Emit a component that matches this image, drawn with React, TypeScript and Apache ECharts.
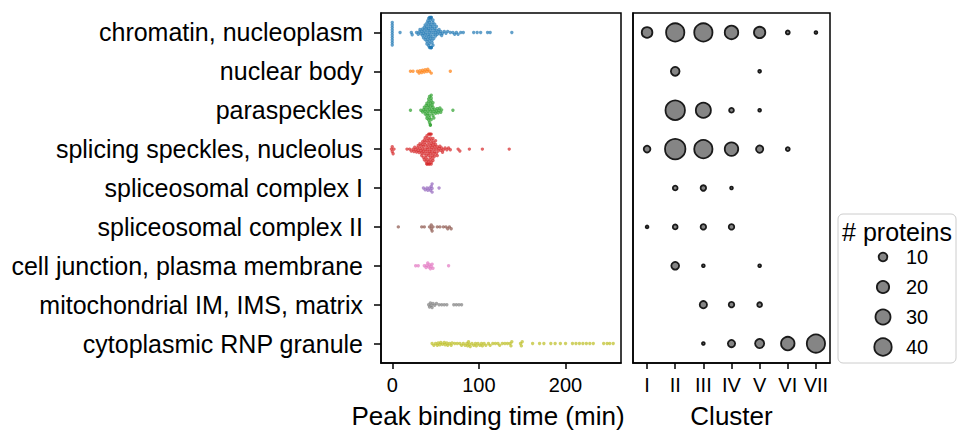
import React, { useEffect, useRef } from 'react';
import * as echarts from 'echarts';

const locations = [
  'chromatin, nucleoplasm',
  'nuclear body',
  'paraspeckles',
  'splicing speckles, nucleolus',
  'spliceosomal complex I',
  'spliceosomal complex II',
  'cell junction, plasma membrane',
  'mitochondrial IM, IMS, matrix',
  'cytoplasmic RNP granule',
];
const clusters = ['I', 'II', 'III', 'IV', 'V', 'VI', 'VII'];
const peakTicks = [0, 100, 200];
const legendSizes = [10, 20, 30, 40];
const palette = ['#1f77b4', '#ff7f0e', '#2ca02c', '#d62728', '#9467bd', '#8c564b', '#e377c2', '#7f7f7f', '#bcbd22'];

// Peak binding time (min) per protein, per location
const chromatinTimes = [
  0, 0, 0, 0, 0, 0, 0, 0, 0, 0, 9, 22, 23,
  28, 30, 31, 32, 33, 34, 35, 35, 36, 36, 37, 37, 38, 38, 38, 39, 39, 39, 40, 40, 40, 40,
  41, 41, 41, 41, 42, 42, 42, 42, 42, 43, 43, 43, 43, 43, 43, 44, 44, 44, 44, 44, 44, 44,
  45, 45, 45, 45, 45, 45, 46, 46, 46, 46, 46, 47, 47, 47, 47, 48, 48, 48, 49, 49, 50, 50,
  51, 51, 52, 53, 54, 55, 56, 57, 58, 60, 62, 64, 67,
  70, 72, 74, 76, 79, 82, 94, 98, 102, 110, 113, 138,
];
const nuclearBodyTimes = [21, 24, 29, 31, 32, 34, 35, 37, 38, 40, 41, 43, 45, 67];
const paraspeckleTimes = [
  21, 33, 35, 36, 37, 38, 38, 39, 39, 40, 40, 40, 41, 41, 41, 42, 42, 42, 42, 43, 43, 43, 43, 43,
  44, 44, 44, 44, 44, 45, 45, 45, 45, 46, 46, 46, 47, 47, 47, 48, 48, 49, 50, 51, 52, 53, 54, 55, 56, 57, 70,
];
const splicingTimes = [
  -1, 0, 0, 1, 2, 17, 20, 22, 24, 25, 26, 27, 28, 29, 30, 30, 31, 32, 32, 33, 33, 34, 34, 35, 35, 35,
  36, 36, 36, 37, 37, 37, 38, 38, 38, 38, 39, 39, 39, 39, 40, 40, 40, 40, 40, 41, 41, 41, 41, 41,
  42, 42, 42, 42, 42, 43, 43, 43, 43, 43, 44, 44, 44, 44, 44, 44, 45, 45, 45, 45, 45, 46, 46, 46, 46,
  47, 47, 47, 47, 48, 48, 48, 49, 49, 49, 50, 50, 51, 51, 52, 52, 53, 54, 55, 56, 57, 58, 59, 61, 63, 65, 67,
  76, 78, 89, 104, 135,
];
const spliceosomeITimes = [36, 38, 40, 41, 43, 44, 45, 46, 46, 46, 54];
const spliceosomeIITimes = [7, 34, 37, 43, 45, 45, 46, 47, 52, 55, 59, 62, 64, 66, 68];
const cellJunctionTimes = [27, 30, 37, 39, 40, 41, 42, 43, 44, 45, 46, 47, 65];
const mitochondriaTimes = [42, 43, 44, 45, 46, 47, 49, 51, 54, 57, 60, 63, 71, 74, 77, 80];
const cytoplasmicTimes = [
  46, 48, 50, 52, 53, 55, 56, 58, 60, 61, 63, 64, 66, 68, 69, 72, 75, 78, 80, 82, 84, 86, 87, 88, 89, 90,
  92, 94, 96, 97, 99, 101, 103, 104, 106, 108, 111, 113, 116, 119, 122, 124, 127, 130, 133, 136, 137, 138,
  148, 149, 150, 162, 170, 175, 183, 188, 194, 200, 208, 212, 216, 220, 224, 228, 232, 244, 248, 251, 255,
];
const peakTimes = [
  chromatinTimes, nuclearBodyTimes, paraspeckleTimes, splicingTimes, spliceosomeITimes,
  spliceosomeIITimes, cellJunctionTimes, mitochondriaTimes, cytoplasmicTimes,
];

// Number of proteins per location (rows) and cluster (columns I..VII)
const clusterCounts = [
  [15, 44, 44, 24, 17, 2, 1],
  [0, 10, 0, 0, 1, 0, 0],
  [0, 50, 30, 3, 1, 0, 0],
  [6, 55, 44, 24, 7, 2, 0],
  [0, 3, 4, 1, 0, 0, 0],
  [1, 3, 4, 4, 0, 0, 0],
  [0, 8, 1, 0, 1, 0, 0],
  [0, 0, 7, 4, 3, 0, 0],
  [0, 0, 1, 7, 11, 24, 44],
];

const FONT = '"Liberation Sans", Arial, Helvetica, sans-serif';
const X_MIN = -13;
const X_MAX = 264;
const GRID_L = { left: 381, top: 13, width: 240, height: 350 };
const GRID_R = { left: 633, top: 13, width: 197, height: 350 };
const DOT_GAP = 2.5;
const DOT_R = 1.7;

const bubbleSize = (n: number) => 2.75 * Math.sqrt(n);

function swarmOffsets(values: number[], pxPerUnit: number, d: number, maxHalf: number) {
  const order = values.map((v, i) => [v, i]).sort((a, b) => a[0] - b[0]);
  const placed: { x: number; y: number }[] = [];
  const out: number[] = new Array(values.length).fill(0);
  let flip = 1;
  for (const [v, i] of order) {
    const x = v * pxPerUnit;
    const nb = placed.filter((p) => Math.abs(p.x - x) < d);
    const cands = [0];
    for (const p of nb) {
      const dy = Math.sqrt(d * d - (p.x - x) * (p.x - x));
      cands.push(p.y + dy, p.y - dy);
    }
    cands.sort((a, b) => Math.abs(a) - Math.abs(b));
    let y = cands.find((c) => nb.every((p) => (p.x - x) ** 2 + (p.y - c) ** 2 >= d * d - 1e-6));
    if (y === undefined || Math.abs(y) > maxHalf) {
      y = flip * maxHalf;
      flip = -flip;
    }
    placed.push({ x, y });
    out[i] = y;
  }
  return out;
}

export default function App() {
  const ref = useRef<HTMLDivElement>(null);
  useEffect(() => {
    if (!ref.current) return;
    const chart = echarts.init(ref.current, null, { renderer: 'svg' });
    const pxPerUnit = GRID_L.width / (X_MAX - X_MIN);

    const swarmSeries = peakTimes.map((times, li) => {
      const offs = swarmOffsets(times, pxPerUnit, DOT_GAP, 15);
      return {
        type: 'custom',
        name: locations[li],
        xAxisIndex: 0,
        yAxisIndex: 0,
        itemStyle: { color: palette[li] },
        encode: { x: 0, y: 1 },
        data: times.map((t, i) => [t, li, offs[i]]),
        renderItem: (params: any, api: any) => {
          const c = api.coord([api.value(0), api.value(1)]);
          return {
            type: 'circle',
            shape: { cx: c[0], cy: c[1] + api.value(2), r: DOT_R },
            style: { fill: api.visual('color'), opacity: 0.7 },
          };
        },
      };
    });

    const bubbleData: number[][] = [];
    clusterCounts.forEach((row, li) =>
      row.forEach((n, ci) => {
        if (n > 0) bubbleData.push([ci, li, n]);
      })
    );

    const legendX = 883;
    const legendYs = [257, 287, 317, 347];
    const legendGraphics: any[] = [
      {
        type: 'rect',
        shape: { x: 838, y: 214, width: 118, height: 149, r: 5 },
        style: { fill: '#fff', stroke: '#cccccc', lineWidth: 1 },
      },
      {
        type: 'text',
        x: 897,
        y: 232,
        style: { text: '# proteins', font: `25px ${FONT}`, fill: '#000', textAlign: 'center', textVerticalAlign: 'middle' },
      },
    ];
    legendSizes.forEach((n, k) => {
      legendGraphics.push({
        type: 'circle',
        shape: { cx: legendX, cy: legendYs[k], r: bubbleSize(n) / 2 },
        style: { fill: '#858585', stroke: '#1a1a1a', lineWidth: 1.8 },
      });
      legendGraphics.push({
        type: 'text',
        x: 906,
        y: legendYs[k],
        style: { text: String(n), font: `20px ${FONT}`, fill: '#000', textAlign: 'left', textVerticalAlign: 'middle' },
      });
    });

    const tickStyle = { color: '#000', width: 1.5 };
    const option: any = {
      animation: false,
      backgroundColor: '#fff',
      textStyle: { fontFamily: FONT },
      grid: [
        { ...GRID_L, show: true, borderColor: '#000', borderWidth: 1.5, backgroundColor: 'transparent' },
        { ...GRID_R, show: true, borderColor: '#000', borderWidth: 1.5, backgroundColor: 'transparent' },
      ],
      xAxis: [
        {
          type: 'value',
          gridIndex: 0,
          min: X_MIN,
          max: X_MAX,
          splitLine: { show: false },
          axisLine: { show: true, onZero: false, lineStyle: tickStyle },
          axisTick: { show: true, length: 6, lineStyle: tickStyle, customValues: peakTicks },
          axisLabel: { fontSize: 20, color: '#000', margin: 12, fontFamily: FONT, customValues: peakTicks },
          name: 'Peak binding time (min)',
          nameLocation: 'middle',
          nameGap: 40,
          nameTextStyle: { fontSize: 26, color: '#000', fontFamily: FONT, padding: [0, 26, 0, 0] },
        },
        {
          type: 'category',
          gridIndex: 1,
          data: clusters,
          axisLine: { show: true, onZero: false, lineStyle: tickStyle },
          axisTick: { show: true, alignWithLabel: true, length: 6, lineStyle: tickStyle },
          axisLabel: { fontSize: 20, color: '#000', margin: 12, fontFamily: FONT, interval: 0 },
          name: 'Cluster',
          nameLocation: 'middle',
          nameGap: 40,
          nameTextStyle: { fontSize: 26, color: '#000', fontFamily: FONT },
        },
      ],
      yAxis: [
        {
          type: 'category',
          gridIndex: 0,
          data: locations,
          inverse: true,
          axisLine: { show: true, onZero: false, lineStyle: tickStyle },
          axisTick: { show: true, alignWithLabel: true, length: 7, lineStyle: tickStyle },
          axisLabel: { fontSize: 25, color: '#000', margin: 18, fontFamily: FONT, interval: 0 },
          splitLine: { show: false },
        },
        {
          type: 'category',
          gridIndex: 1,
          data: locations,
          inverse: true,
          axisLine: { show: true, onZero: false, lineStyle: tickStyle },
          axisTick: { show: false },
          axisLabel: { show: false },
          splitLine: { show: false },
        },
      ],
      series: [
        ...swarmSeries,
        {
          type: 'scatter',
          xAxisIndex: 1,
          yAxisIndex: 1,
          data: bubbleData,
          symbol: 'circle',
          symbolSize: (v: number[]) => bubbleSize(v[2]),
          itemStyle: { color: '#858585', borderColor: '#1a1a1a', borderWidth: 1.8, opacity: 1 },
        },
      ],
      graphic: legendGraphics,
    };
    chart.setOption(option);
    return () => chart.dispose();
  }, []);
  return <div ref={ref} style={{ position: 'fixed', left: 0, top: 0, width: 958, height: 437 }} />;
}
